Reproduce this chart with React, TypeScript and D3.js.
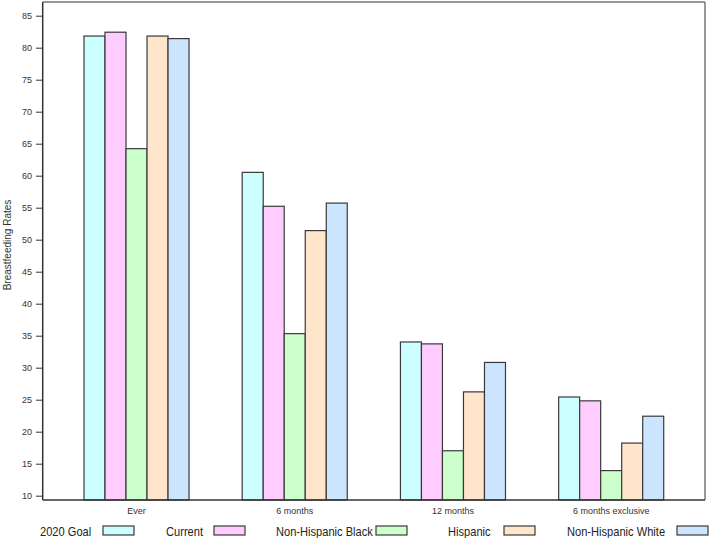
import React from "react";
import * as d3 from "d3";

const categories = ["Ever", "6 months", "12 months", "6 months exclusive"];
const seriesNames = ["2020 Goal", "Current", "Non-Hispanic Black", "Hispanic", "Non-Hispanic White"];
const goal2020 = [81.9, 60.6, 34.1, 25.5];
const current = [82.5, 55.3, 33.8, 24.9];
const nhBlack = [64.3, 35.4, 17.1, 14.0];
const hispanic = [81.9, 51.5, 26.3, 18.3];
const nhWhite = [81.5, 55.8, 30.9, 22.5];
const yTicks = [10, 15, 20, 25, 30, 35, 40, 45, 50, 55, 60, 65, 70, 75, 80, 85];
const colors = ["#CCFFFF", "#FFCCFF", "#CCFFCC", "#FFE5CC", "#CCE5FF"];

const seriesValues = [goal2020, current, nhBlack, hispanic, nhWhite];

// layout
const W = 709, H = 538;
const plot = { left: 42.7, right: 705, top: 2, bottom: 500 };
const legendTextX = [40, 166, 276, 448, 567];
const legendBoxX = [103, 214, 376, 504, 677];

export default function App() {
  const y = d3.scaleLinear().domain([10, 85]).range([496.2, 16.2]);
  const x0 = d3.scaleBand<string>().domain(categories).range([plot.left, plot.right])
    .paddingInner(0.336).paddingOuter(0.261);
  const x1 = d3.scaleBand<string>().domain(seriesNames).range([0, x0.bandwidth()]).padding(0);
  const stroke = "#3a3a3a";
  return (
    <svg width={W} height={H} style={{ position: "absolute", left: 0, top: 0 }}
      fontFamily="'Liberation Sans', Arial, sans-serif">
      <rect width={W} height={H} fill="#fff" />
      {/* frame */}
      <line x1={plot.left} x2={plot.right} y1={plot.top} y2={plot.top} stroke="#777" strokeWidth={1.5} />
      <line x1={plot.right} x2={plot.right} y1={plot.top} y2={plot.bottom} stroke="#777" strokeWidth={1.5} />
      {/* bars */}
      {categories.map((c, ci) => (
        <g key={c} transform={`translate(${x0(c)},0)`}>
          {seriesNames.map((s, si) => {
            const v = seriesValues[si][ci];
            return (
              <rect key={s} x={x1(s)} y={y(v)} width={x1.bandwidth()} height={plot.bottom - y(v)}
                fill={colors[si]} stroke={stroke} strokeWidth={1.2} />
            );
          })}
        </g>
      ))}
      {/* axes lines */}
      <line x1={plot.left} x2={plot.left} y1={plot.top} y2={plot.bottom} stroke="#333" strokeWidth={1.5} />
      <line x1={plot.left} x2={plot.right} y1={plot.bottom} y2={plot.bottom} stroke="#333" strokeWidth={1.5} />
      {/* y ticks */}
      {yTicks.map((t) => (
        <g key={t}>
          <line x1={36} x2={plot.left} y1={y(t)} y2={y(t)} stroke="#333" strokeWidth={1} />
          <text x={32} y={y(t)} dy="0.35em" textAnchor="end" fontSize={9} fill="#333">{t}</text>
        </g>
      ))}
      {/* y title */}
      <text transform={`translate(10.5,245) rotate(-90)`} textAnchor="middle" fontSize={10} fill="#333">
        Breastfeeding Rates
      </text>
      {/* category labels */}
      {categories.map((c) => (
        <text key={c} x={(x0(c) as number) + x0.bandwidth() / 2} y={513.5} textAnchor="middle"
          fontSize={9} fill="#333">{c}</text>
      ))}
      {/* legend */}
      {seriesNames.map((s, i) => (
        <g key={s}>
          <text transform={`translate(${legendTextX[i]},536) scale(0.855,1)`} fontSize={13} fill="#222">{s}</text>
          <rect x={legendBoxX[i]} y={526} width={31} height={9} fill={colors[i]} stroke={stroke} strokeWidth={1.2} />
        </g>
      ))}
    </svg>
  );
}
